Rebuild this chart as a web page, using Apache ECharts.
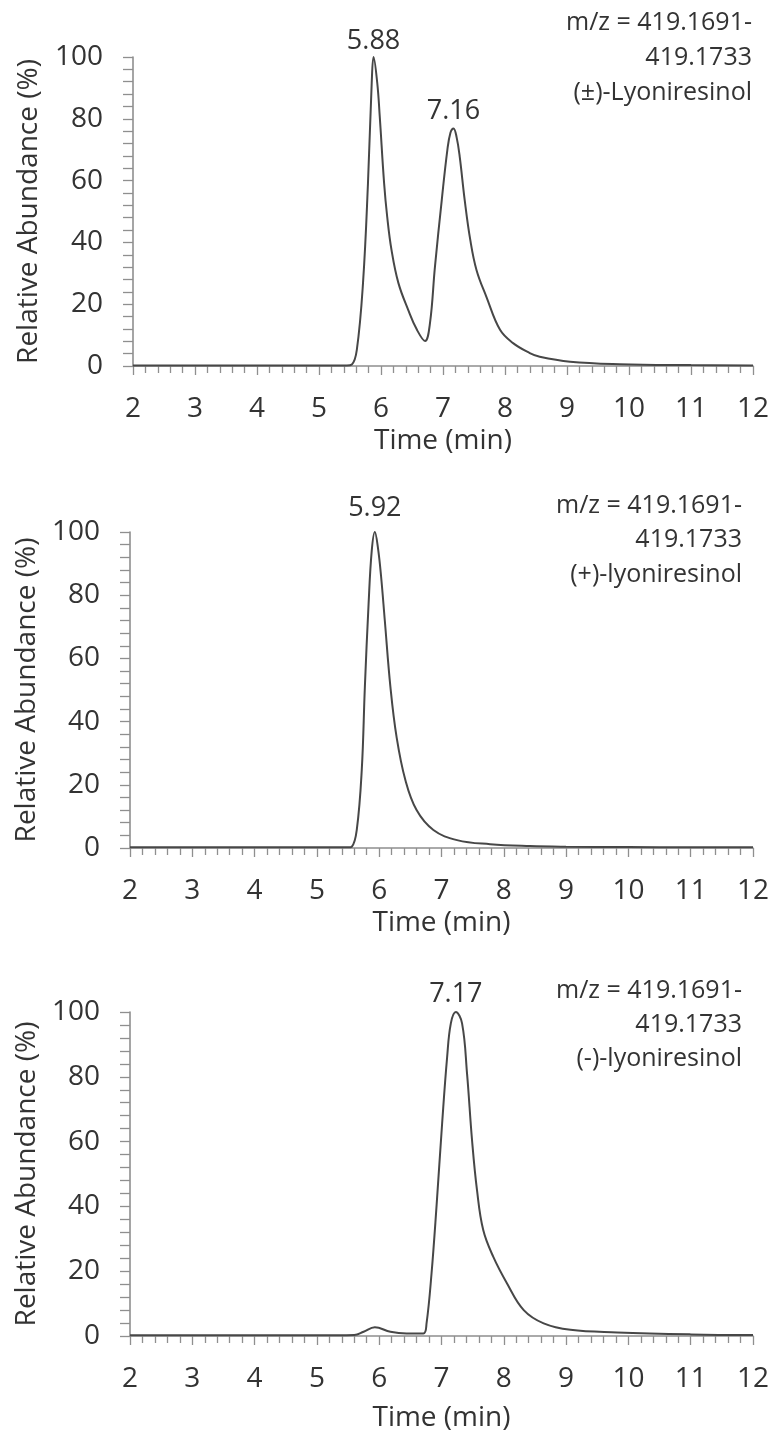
<!DOCTYPE html>
<html>
<head>
<meta charset="utf-8">
<script src="https://cdn.jsdelivr.net/npm/echarts@6/dist/echarts.min.js"></script>
<style>
html,body{margin:0;padding:0;background:#fff;}
#chart{width:775px;height:1441px;}
</style>
</head>
<body>
<div id="chart"></div>
<script>
// ---- data ----
const xTicks = [2, 3, 4, 5, 6, 7, 8, 9, 10, 11, 12];
const yTicks = [0, 20, 40, 60, 80, 100];

const t1 = [2, 3, 4, 5, 5.45, 5.53, 5.61, 5.71, 5.79, 5.85, 5.88, 5.94, 5.98, 6.05, 6.10, 6.17, 6.28, 6.44, 6.58, 6.71, 6.79, 6.87, 6.98, 7.07, 7.12, 7.17, 7.22, 7.27, 7.35, 7.44, 7.54, 7.70, 7.92, 8.13, 8.40, 8.56, 9.05, 9.85, 11, 12];
const v1 = [0.2, 0.2, 0.2, 0.2, 0.2, 0.5, 5.2, 26.9, 59.2, 91.5, 100, 91.5, 80.7, 59.2, 48.3, 37.5, 26.9, 18.1, 11.7, 8.1, 13.9, 32.1, 53.7, 69.9, 75.5, 76.9, 74, 67.7, 53.7, 40.8, 31.1, 22.4, 11.7, 7.4, 4.2, 3.0, 1.4, 0.6, 0.3, 0.2];

const t2 = [2, 3, 4, 5, 5.5, 5.56, 5.64, 5.72, 5.77, 5.83, 5.88, 5.93, 5.98, 6.03, 6.09, 6.18, 6.28, 6.42, 6.60, 6.87, 7.25, 7.78, 8.42, 9.0, 10, 11, 12];
const v2 = [0.2, 0.2, 0.2, 0.2, 0.2, 0.4, 5.7, 24.7, 51, 77.4, 94, 100, 95, 86, 72, 51, 35, 21.5, 12, 5.7, 2.5, 1.2, 0.6, 0.4, 0.3, 0.2, 0.2];

const t3 = [2, 3, 4, 5, 5.6, 5.75, 5.93, 6.18, 6.44, 6.71, 6.76, 6.84, 6.92, 7.01, 7.09, 7.15, 7.23, 7.33, 7.41, 7.49, 7.57, 7.67, 7.83, 8.05, 8.32, 8.64, 9.07, 9.82, 11, 12];
const v3 = [0.2, 0.2, 0.2, 0.2, 0.3, 1.3, 2.7, 1.3, 0.8, 0.8, 3.9, 19.3, 40, 65.6, 86, 96.5, 100, 96.5, 81, 60.5, 45, 32.7, 24.5, 16.3, 8, 3.9, 1.9, 1.1, 0.5, 0.3];

const peakT1 = [5.88, 7.17], peakV1 = [100, 76.9], peakL1 = ['5.88', '7.16'];
const peakT2 = [5.93], peakV2 = [100], peakL2 = ['5.92'];
const peakT3 = [7.23], peakV3 = [100], peakL3 = ['7.17'];

const annot1 = ['m/z = 419.1691-', '419.1733', '(±)-Lyoniresinol'];
const annot2 = ['m/z = 419.1691-', '419.1733', '(+)-lyoniresinol'];
const annot3 = ['m/z = 419.1691-', '419.1733', '(-)-lyoniresinol'];

const xName = 'Time (min)';
const yName = 'Relative Abundance (%)';

// ---- layout / style ----
const FONT = '"Open Sans"';
const FS = 28;
const FS_AN = 25;
const FS_PK = 27;
const TXT = '#333333';
const AX = '#8f8f8f';
const LINE = '#474747';

const panels = [
  {top: 57, bottom: 1441 - 366, left: 133, right: 22, t: t1, v: v1, pt: peakT1, pv: peakV1, pl: peakL1, pd: [2, 4], an: annot1, anRight: 752, anY: [27, 62, 97], nameGap: 61, yNameGap: 90},
  {top: 532, bottom: 1441 - 848, left: 130, right: 22, t: t2, v: v2, pt: peakT2, pv: peakV2, pl: peakL2, pd: [10], an: annot2, anRight: 742, anY: [510, 544, 579], nameGap: 61, yNameGap: 87},
  {top: 1012, bottom: 1441 - 1336, left: 130, right: 22, t: t3, v: v3, pt: peakT3, pv: peakV3, pl: peakL3, pd: [4], an: annot3, anRight: 742, anY: [995, 1029, 1063], nameGap: 68, yNameGap: 87}
];

const grid = [], xAxis = [], yAxis = [], series = [], graphic = [];
panels.forEach((p, i) => {
  grid.push({top: p.top, bottom: p.bottom, left: p.left, right: p.right, containLabel: false});
  xAxis.push({
    type: 'value', gridIndex: i, min: xTicks[0], max: xTicks[xTicks.length - 1], interval: 1,
    name: xName, nameLocation: 'middle', nameGap: p.nameGap,
    nameTextStyle: {fontFamily: FONT, fontSize: FS, color: TXT},
    axisLine: {show: true, onZero: false, lineStyle: {color: AX, width: 1.6}},
    axisTick: {show: true, inside: false, length: 9, lineStyle: {color: AX, width: 1.3}},
    minorTick: {show: true, splitNumber: 5, length: 7, lineStyle: {color: AX, width: 1.3}},
    axisLabel: {fontFamily: FONT, fontSize: FS, color: TXT, margin: 29},
    splitLine: {show: false}
  });
  yAxis.push({
    type: 'value', gridIndex: i, min: yTicks[0], max: yTicks[yTicks.length - 1], interval: 20,
    name: yName, nameLocation: 'middle', nameGap: p.yNameGap, nameRotate: 90,
    nameTextStyle: {fontFamily: FONT, fontSize: FS, color: TXT},
    axisLine: {show: true, lineStyle: {color: AX, width: 1.6}},
    axisTick: {show: true, inside: false, length: 10, lineStyle: {color: AX, width: 1.3}},
    minorTick: {show: true, splitNumber: 5, length: 10, lineStyle: {color: AX, width: 1.3}},
    axisLabel: {fontFamily: FONT, fontSize: FS, color: TXT, margin: 30},
    splitLine: {show: false}
  });
  series.push({
    type: 'line', xAxisIndex: i, yAxisIndex: i,
    data: p.t.map((x, k) => [x, p.v[k]]),
    showSymbol: false, smooth: 0.4,
    lineStyle: {color: LINE, width: 2},
    silent: true, z: 3
  });
  series.push({
    type: 'scatter', xAxisIndex: i, yAxisIndex: i,
    data: p.pt.map((x, k) => ({value: [x, p.pv[k]], name: p.pl[k],
      label: {distance: p.pd[k]}})),
    symbolSize: 0, silent: true,
    itemStyle: {opacity: 1, color: TXT},
    label: {show: true, position: 'top', formatter: '{b}', fontFamily: FONT, fontSize: FS_PK, color: TXT, opacity: 1}
  });
  p.an.forEach((s, k) => {
    graphic.push({type: 'text', right: 775 - p.anRight, top: p.anY[k] - 17,
      style: {text: s, font: FS_AN + 'px ' + FONT, fill: TXT, align: 'right'}});
  });
});

const chart = echarts.init(document.getElementById('chart'), null, {renderer: 'canvas'});
chart.setOption({
  animation: false,
  backgroundColor: '#ffffff',
  grid, xAxis, yAxis, series, graphic
});
</script>
</body>
</html>
